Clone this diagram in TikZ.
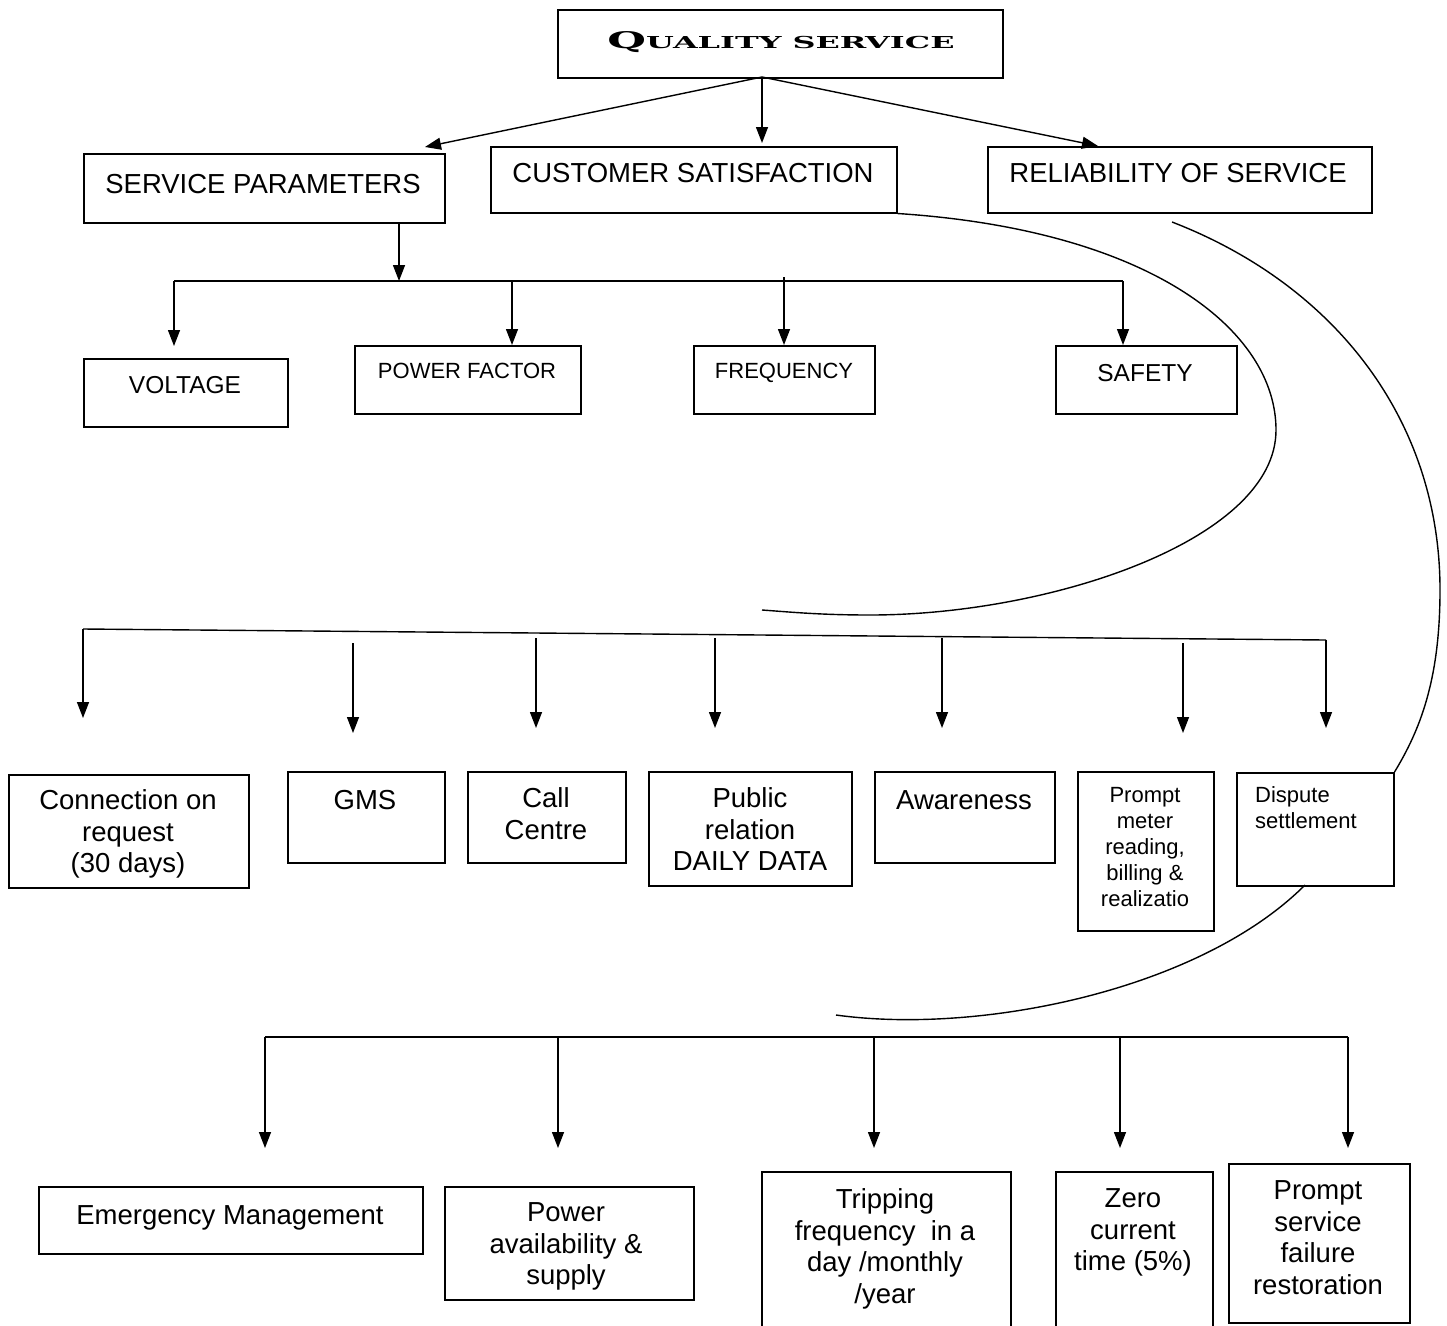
\documentclass[tikz,border=0pt]{standalone}
\usepackage{fontspec}
\setmainfont{Liberation Sans}
\newfontfamily\titlefont{DejaVu Serif}
\usetikzlibrary{arrows.meta}
\newcommand\bx[5]{\node[box, minimum width={(#4-#2)*1pt}, minimum height={(#5-#3)*1pt}] (#1) at (#2,#3) {};}
\begin{document}
\begin{tikzpicture}[x=1pt,y=-1pt,
  box/.style={draw, line width=1.5pt, inner sep=0, anchor=north west},
  conn/.style={line width=1.4pt},
  arr/.style={conn, -{Triangle[length=16pt,width=12pt]}},
  curve/.style={line width=1.4pt},
  txt/.style={inner sep=0, anchor=north, align=center, execute at begin node=\strut},
  bigt/.style={txt, font=\fontsize{27.5}{31.7}\selectfont, yshift=10.8pt},
  medt/.style={txt, font=\fontsize{24.5}{29}\selectfont, yshift=10.4pt},
  smallt/.style={txt, font=\fontsize{22}{26}\selectfont, yshift=9.3pt},
]
\clip (0,0) rectangle (1447,1325);
\fill[white] (0,0) rectangle (1447,1325);

% boxes
\bx{qs}{557}{9}{1002}{77}
\bx{sp}{83}{153}{444}{222}
\bx{cs}{490}{146}{896}{212}
\bx{rs}{987}{146}{1371}{212}
\bx{vol}{83}{358}{287}{426}
\bx{pf}{354}{345}{580}{413}
\bx{fr}{693}{345}{874}{413}
\bx{sf}{1055}{345}{1236}{413}
\bx{cr}{8}{774}{248}{887}
\bx{gms}{287}{771}{444}{862}
\bx{cc}{467}{771}{625}{862}
\bx{pr}{648}{771}{851}{885}
\bx{aw}{874}{771}{1054}{862}
\bx{pm}{1077}{771}{1213}{930}
\bx{ds}{1236}{772}{1393}{885}
\bx{em}{38}{1186}{422}{1253}
\bx{pa}{444}{1186}{693}{1299}
\bx{tf}{761}{1171}{1010}{1345}
\bx{zc}{1055}{1171}{1212}{1345}
\bx{ps}{1228}{1163}{1409}{1322}

% texts
\node[anchor=base, inner sep=0] (qst) at (781,48) {\resizebox{347pt}{17pt}{\titlefont\bfseries{\fontsize{23}{23}\selectfont Q}{\fontsize{16.5}{16.5}\selectfont UALITY SERVICE}}};
\node[bigt] (spt) at (263,182) {SERVICE PARAMETERS};
\node[bigt] (cst) at (693,171) {CUSTOMER SATISFACTION};
\node[bigt] (rst) at (1178,171) {RELIABILITY OF SERVICE};
\node[medt] (volt) at (185,383) {VOLTAGE};
\node[smallt] (pft) at (467,369) {POWER FACTOR};
\node[smallt] (frt) at (784,369) {FREQUENCY};
\node[medt] (sft) at (1145,371) {SAFETY};
\node[bigt] (crt) at (128,800) {Connection on\\request\\(30 days)};
\node[bigt] (gmst) at (365,798) {GMS};
\node[bigt] (cct) at (546,798) {Call\\Centre};
\node[bigt] (prt) at (750,798) {Public\\relation\\DAILY DATA};
\node[bigt] (awt) at (964,798) {Awareness};
\node[smallt] (pmt) at (1145,796) {Prompt\\meter\\reading,\\billing \&\\realizatio};
\node[smallt, anchor=north west, align=left] (dst) at (1255,796) {Dispute\\settlement};
\node[bigt] (emt) at (230,1213) {Emergency Management};
\node[bigt] (pat) at (566,1213) {Power\\availability \&\\supply};
\node[bigt] (tft) at (885,1199) {Tripping\\frequency\ \ in a\\day /monthly\\/year};
\node[bigt] (zct) at (1133,1199) {Zero\\current\\time (5\%)};
\node[bigt] (pst) at (1318,1191) {Prompt\\service\\failure\\restoration};

% top connectors
\coordinate (q0) at (762,77);
\coordinate (q1) at (425,147);
\coordinate (q2) at (762,143);
\coordinate (q3) at (1098,146);
\draw[arr] (q0) -- (q1);
\draw[arr] (q0) -- (q2);
\draw[arr] (q0) -- (q3);

% service parameters branch
\coordinate (s0) at (399,222);
\coordinate (s1) at (399,281);
\draw[arr] (s0) -- (s1);
\coordinate (b1l) at (174,281);
\coordinate (b1r) at (1123,281);
\draw[conn] (b1l) -- (b1r);
\coordinate (vt) at (174,346);
\coordinate (pfa) at (512,281);
\coordinate (pfb) at (512,345);
\coordinate (fra) at (784,277);
\coordinate (frb) at (784,345);
\coordinate (sfb) at (1123,345);
\draw[arr] (b1l) -- (vt);
\draw[arr] (pfa) -- (pfb);
\draw[arr] (fra) -- (frb);
\draw[arr] (b1r) -- (sfb);

% customer satisfaction branch
\draw[curve] (cs.south east) .. controls (1150,230) and (1276,330) .. (1276,430)
  .. controls (1276,540) and (1050,615) .. (870,615)
  .. controls (820,615) and (790,612) .. (762,610);
\coordinate (b2l) at (83,629);
\coordinate (b2r) at (1326,640);
\draw[conn] (b2l) -- (b2r);
\coordinate (a1) at (83,718);
\draw[arr] (b2l) -- (a1);
\coordinate (a2a) at (353,643); \coordinate (a2b) at (353,733);
\coordinate (a3a) at (536,638); \coordinate (a3b) at (536,728);
\coordinate (a4a) at (715,638); \coordinate (a4b) at (715,728);
\coordinate (a5a) at (942,638); \coordinate (a5b) at (942,728);
\coordinate (a6a) at (1183,643); \coordinate (a6b) at (1183,733);
\coordinate (a7b) at (1326,728);
\draw[arr] (a2a) -- (a2b);
\draw[arr] (a3a) -- (a3b);
\draw[arr] (a4a) -- (a4b);
\draw[arr] (a5a) -- (a5b);
\draw[arr] (a6a) -- (a6b);
\draw[arr] (b2r) -- (a7b);

% reliability branch
\coordinate (r0) at (1172,222);
\draw[curve] (r0) .. controls (1335,285) and (1440,420) .. (1440,590)
  .. controls (1440,680) and (1420,730) .. (ds.north east);
\coordinate (d0) at (1305,885);
\coordinate (d1) at (836,1015);
\draw[curve] (d0) .. controls (1200,990) and (980,1035) .. (d1);
\coordinate (b3l) at (265,1037);
\coordinate (b3r) at (1348,1037);
\draw[conn] (b3l) -- (b3r);
\coordinate (c1) at (265,1148);
\coordinate (c2a) at (558,1037); \coordinate (c2b) at (558,1148);
\coordinate (c3a) at (874,1037); \coordinate (c3b) at (874,1148);
\coordinate (c4a) at (1120,1037); \coordinate (c4b) at (1120,1148);
\coordinate (c5) at (1348,1148);
\draw[arr] (b3l) -- (c1);
\draw[arr] (c2a) -- (c2b);
\draw[arr] (c3a) -- (c3b);
\draw[arr] (c4a) -- (c4b);
\draw[arr] (b3r) -- (c5);
\end{tikzpicture}
\end{document}
